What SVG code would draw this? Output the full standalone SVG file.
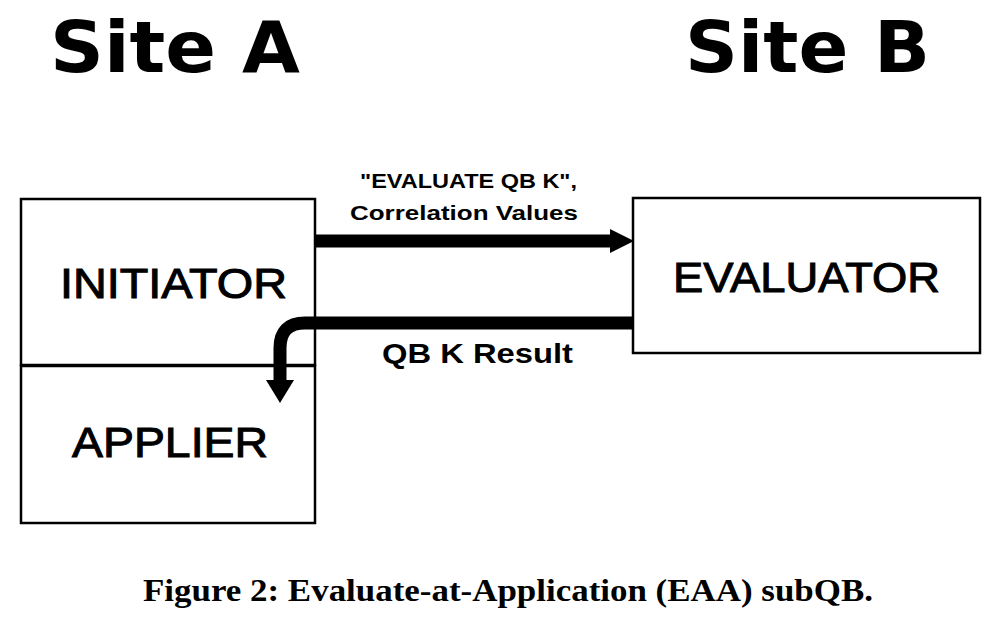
<svg xmlns="http://www.w3.org/2000/svg" width="1006" height="624" viewBox="0 0 1006 624">
<style>
.box{fill:none;stroke:#000;stroke-width:2.5}
.title{font-family:"DejaVu Sans",sans-serif;font-weight:bold;font-size:72px;fill:#000}
.node{font-family:"Liberation Sans",sans-serif;font-size:42px;fill:#000;stroke:#000;stroke-width:1}
.lbl{font-family:"Liberation Sans",sans-serif;font-weight:bold;fill:#000}
.cap{font-family:"Liberation Serif",serif;font-weight:bold;font-size:31px;fill:#000}
.conn{fill:none;stroke:#000;stroke-width:13}
</style>
<rect width="1006" height="624" fill="#fff"/>
<text class="title" x="50" y="72" textLength="250" lengthAdjust="spacingAndGlyphs">Site A</text>
<text class="title" x="685" y="72" textLength="245" lengthAdjust="spacingAndGlyphs">Site B</text>
<g id="initiator">
<rect class="box" x="21" y="199" width="294" height="166"/>
<text class="node" x="60" y="298" textLength="227" lengthAdjust="spacingAndGlyphs">INITIATOR</text>
</g>
<g id="applier">
<rect class="box" x="21" y="366" width="294" height="157"/>
<text class="node" x="72" y="457" textLength="196" lengthAdjust="spacingAndGlyphs">APPLIER</text>
</g>
<g id="evaluator">
<rect class="box" x="633" y="198" width="347" height="155"/>
<text class="node" x="673" y="292" textLength="267" lengthAdjust="spacingAndGlyphs">EVALUATOR</text>
</g>
<g id="connectors">
<path class="conn" d="M316,241 H612"/>
<path d="M610,229 L634,241 L610,253 Z" fill="#000"/>
<path class="conn" d="M633,323 H305 Q280,323 280,348 V382"/>
<path d="M266,380 L294,380 L280,403 Z" fill="#000"/>
</g>
<text class="lbl" x="360" y="188" font-size="20" textLength="217" lengthAdjust="spacingAndGlyphs">"EVALUATE QB K",</text>
<text class="lbl" x="350" y="220" font-size="20" textLength="228" lengthAdjust="spacingAndGlyphs">Correlation Values</text>
<text class="lbl" x="382" y="363" font-size="28" textLength="191" lengthAdjust="spacingAndGlyphs">QB K Result</text>
<text class="cap" x="143" y="601" textLength="730" lengthAdjust="spacingAndGlyphs">Figure 2: Evaluate-at-Application (EAA) subQB.</text>
</svg>
